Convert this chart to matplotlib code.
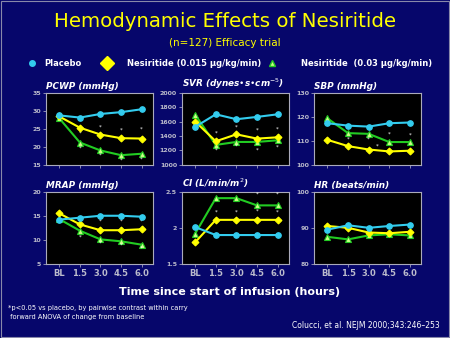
import numpy as np
import matplotlib
matplotlib.use('Agg')
import matplotlib.pyplot as plt
from matplotlib.lines import Line2D
from matplotlib.patches import Rectangle

# time points
times = ['BL', '1.5', '3.0', '4.5', '6.0']
groups = ['Placebo', 'Nesiritide (0.015 \u00b5g/kg/min)', 'Nesiritide  (0.03 \u00b5g/kg/min)']

# values per panel: placebo, 0.015, 0.03
pcwp = [[28.7, 28.1, 29.1, 29.6, 30.4],
        [28.4, 25.3, 23.4, 22.4, 22.3],
        [27.9, 21.2, 19.0, 17.7, 18.1]]
svr = [[1527, 1700, 1632, 1664, 1700],
       [1600, 1327, 1423, 1364, 1382],
       [1695, 1277, 1318, 1318, 1341]]
sbp = [[117.3, 116.3, 115.9, 117.3, 117.6],
       [110.4, 107.8, 106.4, 105.6, 105.9],
       [119.3, 113.2, 112.9, 109.5, 109.5]]
mrap = [[14.2, 14.6, 15.0, 15.0, 14.8],
        [15.5, 13.2, 12.0, 12.0, 12.2],
        [14.3, 11.9, 10.1, 9.7, 9.0]]
ci = [[2.01, 1.90, 1.90, 1.90, 1.90],
      [1.80, 2.11, 2.11, 2.11, 2.11],
      [1.92, 2.41, 2.41, 2.31, 2.31]]
hr = [[89.5, 90.7, 90.0, 90.5, 90.9],
      [90.5, 90.0, 88.7, 88.5, 88.9],
      [87.5, 86.8, 87.9, 88.2, 87.9]]

# significance marks (time index, y value)
pcwp_sig = [(1, 23.8), (2, 25.6), (3, 24.6), (4, 24.9), (1, 19.6), (2, 17.7), (3, 16.3), (4, 16.5)]
svr_sig = [(1, 1445), (2, 1527), (3, 1482), (4, 1500), (1, 1209), (2, 1264), (3, 1200), (4, 1241)]
sbp_sig = [(1, 110.8), (2, 110.8), (2.4, 108.0), (3, 113.0), (4, 112.6)]
mrap_sig = [(1, 10.5), (2, 13.8), (2, 9.4), (3, 13.8), (3, 9.0), (4, 13.8), (4, 8.3)]
ci_sig = [(1, 2.22), (2, 2.22), (3, 2.23), (3, 2.46), (4, 2.46), (4, 2.22)]

panels = [('PCWP (mmHg)', pcwp, (15, 35), [15, 20, 25, 30, 35], pcwp_sig),
          ('SVR (dynes\u2022s\u2022cm$^{-5}$)', svr, (1000, 2000), [1000, 1200, 1400, 1600, 1800, 2000], svr_sig),
          ('SBP (mmHg)', sbp, (100, 130), [100, 110, 120, 130], sbp_sig),
          ('MRAP (mmHg)', mrap, (5, 20), [5, 10, 15, 20], mrap_sig),
          ('CI (L/min/m$^2$)', ci, (1.5, 2.5), [1.5, 2, 2.5], ci_sig),
          ('HR (beats/min)', hr, (80, 100), [80, 90, 100], [])]

bg = '#06066b'
colors = ['#33ccee', '#ffff00', '#22cc22']
mk = ['o', 'D', '^']
mfc = ['#33ccee', '#ffff00', '#ccff88']

fig = plt.figure(figsize=(4.5, 3.38), dpi=100, facecolor=bg)
fig.patches.append(Rectangle((0.003, 0.003), 0.994, 0.994, transform=fig.transFigure,
                             fill=False, edgecolor='#8888aa', lw=0.8))

fig.text(0.5, 0.935, 'Hemodynamic Effects of Nesiritide', color='#ffff00',
         fontsize=14.2, ha='center', va='center')
fig.text(0.5, 0.873, '(n=127) Efficacy trial', color='#ffff00',
         fontsize=7.5, ha='center', va='center')

lefts = [0.102, 0.404, 0.698]
bottoms = [0.512, 0.219]
w, h = 0.238, 0.214
x = np.arange(len(times))

for i, (title, vals, ylim, yt, sig) in enumerate(panels):
    ax = fig.add_axes([lefts[i % 3], bottoms[i // 3], w, h])
    ax.set_facecolor('black')
    for j in range(3):
        ax.plot(x, vals[j], color=colors[j], lw=1.5, marker=mk[j],
                ms=4 if j != 1 else 3.5, mfc=mfc[j], mec=colors[j], mew=0.8,
                zorder=3 + (2 - j))
    for sx, sy in sig:
        ax.text(sx, sy, '*', color='white', fontsize=4, ha='center', va='center')
    ax.set_xlim(-0.65, 4.55)
    ax.set_ylim(*ylim)
    ax.set_yticks(yt)
    ax.set_yticklabels([('%g' % v) for v in yt], fontsize=4.5, fontweight='bold', color='white')
    ax.set_xticks(x)
    if i >= 3:
        ax.set_xticklabels(times, fontsize=6, fontweight='bold', color='white')
    else:
        ax.set_xticklabels([])
    ax.tick_params(colors='#bbbbcc', length=2, width=0.5, pad=1.5)
    for s in ax.spines.values():
        s.set_color('#aaaabb')
        s.set_linewidth(0.8)
    ax.text(0.0, 1.02, title, transform=ax.transAxes, color='white', fontsize=6.4,
            fontweight='bold', fontstyle='italic', ha='left', va='bottom')

# legend row
leg_x = [0.071, 0.238, 0.605]
for j in range(3):
    fig.add_artist(Line2D([leg_x[j]], [0.813], ls='none', marker=mk[j], color=colors[j],
                          mfc=mfc[j], mec=colors[j], ms=[4, 7, 4][j],
                          transform=fig.transFigure))
    fig.text(leg_x[j] + [0.027, 0.045, 0.063][j], 0.813, groups[j], color='white',
             fontsize=6, fontweight='bold', ha='left', va='center')

fig.text(0.51, 0.135, 'Time since start of infusion (hours)', color='white',
         fontsize=8, fontweight='bold', ha='center', va='center')
fig.text(0.018, 0.074, '*p<0.05 vs placebo, by pairwise contrast within carry\n forward ANOVA of change from baseline',
         color='white', fontsize=4.8, ha='left', va='center', linespacing=1.6)
fig.text(0.977, 0.037, 'Colucci, et al. NEJM 2000;343:246\u2013253', color='white',
         fontsize=5.5, ha='right', va='center')

fig.savefig('out.png', dpi=100, facecolor=bg)
